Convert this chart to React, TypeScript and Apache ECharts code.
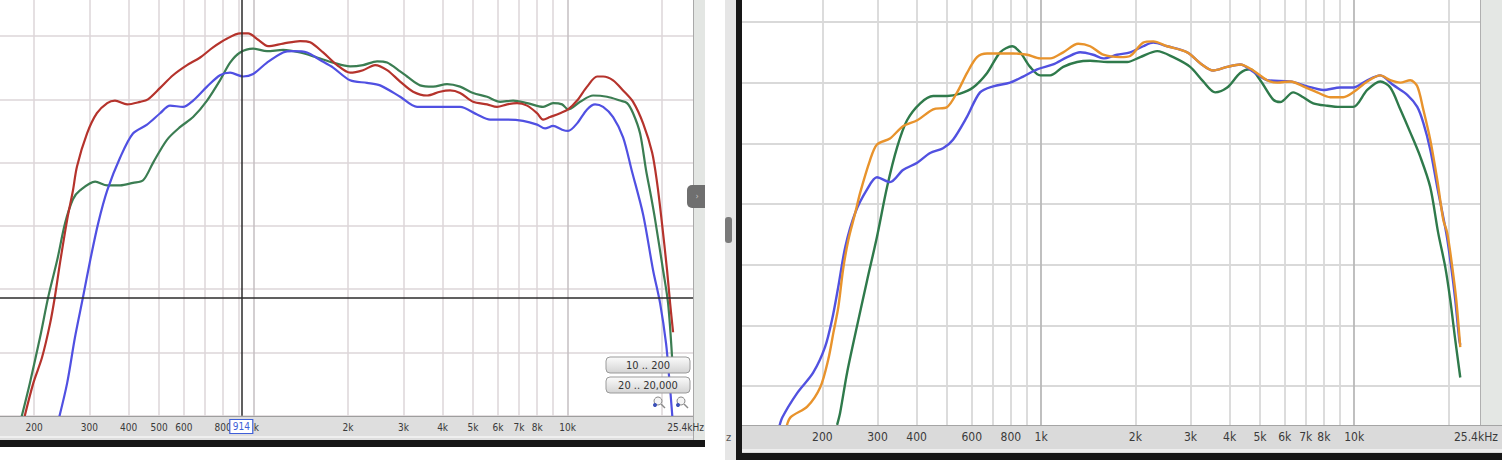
import React, { useEffect, useRef } from "react";
import * as echarts from "echarts";

type Pt = [number, number];

// ---- Left panel: frequency (Hz), level (dB) ----
const leftRed: Pt[] = [
  [186, 59.8], [199, 62.6], [212, 64.6], [225, 67.3], [233, 69.4], [242, 72.1], [255, 75.5], [266, 77.8],
  [274, 79.7], [295, 82.3], [317, 83.9], [342, 84.7], [362, 84.9], [396, 84.6], [435, 84.8], [461, 85.0],
  [504, 85.9], [554, 86.9], [614, 87.7], [676, 88.3], [743, 89.1], [824, 89.8], [906, 90.2], [961, 90.2],
  [1034, 89.7], [1112, 89.2], [1242, 89.4], [1406, 89.6], [1514, 89.5], [1665, 88.7], [1845, 87.7],
  [2030, 87.1], [2232, 87.3], [2438, 87.7], [2662, 87.3], [2929, 86.4], [3221, 85.6], [3570, 85.3],
  [3926, 85.6], [4225, 85.7], [4546, 85.5], [5002, 84.8], [5543, 84.6], [5966, 84.4], [6418, 84.6],
  [6906, 84.7], [7433, 84.5], [7999, 83.9], [8356, 83.4], [8795, 83.6], [9466, 83.9], [10038, 84.2],
  [10724, 84.9], [11538, 86.0], [12417, 86.8], [12976, 86.8], [13963, 86.5], [15024, 85.7], [16166, 84.8],
  [17400, 83.1], [18589, 80.8], [19280, 78.4], [19900, 75.6], [20740, 71.5], [21207, 68.9], [21680, 66.6],
];
const leftGreen: Pt[] = [
  [182, 59.8], [194, 62.6], [209, 66.2], [222, 69.4], [237, 72.3], [251, 75.2], [266, 77.1], [280, 77.8],
  [313, 78.5], [342, 78.2], [376, 78.2], [413, 78.4], [445, 78.6], [479, 80.0], [530, 81.8], [583, 82.8],
  [642, 83.6], [711, 84.9], [782, 86.5], [842, 87.9], [906, 88.7], [997, 89.0], [1104, 88.8], [1242, 88.9],
  [1406, 88.7], [1593, 88.3], [1792, 87.9], [2030, 87.6], [2232, 87.7], [2474, 88.0], [2662, 87.9],
  [2929, 87.2], [3083, 86.8], [3392, 86.1], [3729, 86.0], [4133, 86.2], [4546, 86.0], [5002, 85.5],
  [5543, 85.2], [6098, 84.8], [6707, 84.9], [7433, 84.7], [8356, 84.4], [8992, 84.7], [9606, 84.6],
  [10038, 84.2], [10962, 84.8], [12058, 85.3], [13362, 85.2], [14696, 84.9], [15470, 84.7], [16166, 83.9],
  [17020, 82.3], [17780, 79.4], [18450, 77.3], [19000, 75.5], [20147, 71.5], [20894, 68.9], [21520, 64.6],
];
const leftBlue: Pt[] = [
  [240, 59.8], [255, 62.6], [270, 66.2], [286, 69.3], [302, 72.3], [320, 75.2], [342, 77.8], [376, 80.4],
  [413, 82.3], [458, 83.0], [504, 83.9], [542, 84.5], [596, 84.4], [642, 84.9], [711, 86.0], [782, 86.9],
  [842, 87.1], [926, 86.8], [997, 87.0], [1104, 87.9], [1242, 88.7], [1336, 88.8], [1480, 88.7], [1629, 88.1],
  [1792, 87.5], [2030, 86.5], [2298, 86.3], [2529, 86.1], [2929, 85.2], [3317, 84.4], [3729, 84.4],
  [4133, 84.4], [4546, 84.4], [5151, 83.8], [5666, 83.4], [6418, 83.4], [7217, 83.3], [7999, 83.0],
  [8480, 82.7], [8992, 82.9], [9606, 82.6], [10038, 82.5], [10724, 83.1], [11538, 84.2], [12236, 84.6],
  [12976, 84.4], [13963, 83.6], [15024, 82.0], [16000, 79.4], [17400, 75.9], [18720, 71.5], [19706, 68.9],
  [20590, 65.7], [21050, 63.1], [21520, 60.2], [21680, 58.9],
];

// ---- Right panel ----
const rightGreen: Pt[] = [
  [223, 61.8], [228, 62.8], [240, 66.1], [258, 69.9], [278, 73.7], [299, 77.3], [322, 81.4], [347, 84.7],
  [373, 86.9], [411, 88.3], [452, 88.9], [501, 88.9], [551, 89.1], [606, 89.6], [672, 90.8], [740, 92.5],
  [808, 93.0], [857, 92.5], [922, 91.3], [993, 90.6], [1069, 90.6], [1176, 91.3], [1303, 91.7], [1434, 91.8],
  [1626, 91.7], [1883, 91.7], [2072, 92.1], [2348, 92.6], [2641, 92.1], [2992, 91.3], [3293, 90.1],
  [3597, 89.2], [3929, 89.6], [4323, 90.8], [4653, 91.1], [5009, 90.2], [5511, 88.6], [5802, 88.4],
  [6384, 89.2], [6871, 88.8], [7396, 88.3], [8198, 88.1], [9022, 88.0], [9927, 88.0], [11004, 89.4],
  [12109, 90.1], [13032, 89.6], [14028, 87.8], [15097, 85.9], [16249, 83.9], [17486, 81.4], [18546, 77.6],
  [19531, 74.8], [20261, 72.1], [21019, 68.8], [21808, 65.7],
];
const rightBlue: Pt[] = [
  [145, 61.4], [149, 62.4], [166, 64.4], [187, 66.1], [204, 68.2], [215, 70.5], [225, 73.2], [237, 76.5],
  [255, 79.3], [278, 81.2], [299, 82.2], [329, 81.8], [362, 82.8], [402, 83.4], [442, 84.2], [486, 84.6],
  [523, 85.3], [580, 87.2], [638, 89.2], [703, 89.7], [796, 90.0], [876, 90.5], [971, 91.1], [1092, 91.5],
  [1211, 92.1], [1332, 92.5], [1466, 92.3], [1578, 92.0], [1749, 92.3], [1925, 92.5], [2118, 93.0],
  [2280, 93.3], [2527, 93.0], [2928, 92.5], [3221, 91.6], [3544, 91.0], [3929, 91.3], [4323, 91.5],
  [4757, 90.9], [5272, 90.2], [6245, 90.1], [7075, 89.7], [7962, 89.4], [9022, 89.6], [9927, 89.6],
  [11004, 90.2], [12109, 90.6], [13323, 89.8], [14767, 89.0], [15894, 88.0], [16610, 86.7], [17486, 84.5],
  [18410, 81.4], [19676, 77.6], [20411, 74.8], [21019, 72.1], [21646, 68.8], [21808, 68.4],
];
const rightOrange: Pt[] = [
  [153, 61.4], [158, 62.4], [179, 63.3], [197, 64.9], [209, 67.2], [217, 69.4], [225, 71.5], [233, 74.6],
  [242, 77.0], [255, 79.3], [264, 80.9], [284, 83.6], [299, 84.9], [329, 85.4], [362, 86.4], [402, 86.9],
  [452, 87.8], [501, 88.0], [539, 89.2], [580, 90.8], [624, 92.1], [672, 92.4], [740, 92.4], [814, 92.4],
  [902, 92.3], [993, 92.0], [1069, 92.0], [1176, 92.5], [1313, 93.2], [1434, 93.0], [1578, 92.3],
  [1789, 92.1], [1925, 92.2], [2118, 93.3], [2280, 93.4], [2527, 93.0], [2928, 92.5], [3221, 91.6],
  [3544, 91.0], [3929, 91.3], [4323, 91.5], [4757, 91.0], [5272, 90.2], [5675, 90.0], [6245, 90.1],
  [6871, 89.7], [7617, 89.2], [8381, 88.8], [9224, 88.8], [9927, 89.2], [11004, 90.1], [12109, 90.6],
  [13032, 90.2], [14028, 90.0], [15097, 90.2], [15894, 89.7], [16610, 87.8], [17486, 85.3], [18410, 82.0],
  [19246, 78.7], [19821, 77.6], [20562, 74.8], [21175, 72.1], [21808, 68.2],
];

// ---- Axes ----
const gridFreqs = [200, 300, 400, 500, 600, 700, 800, 900, 1000, 2000, 3000, 4000, 5000, 6000, 7000, 8000, 9000, 10000, 20000];
const majorFreqs = [1000, 10000];
const leftTickValues = [200, 300, 400, 500, 600, 800, 1000, 2000, 3000, 4000, 5000, 6000, 7000, 8000, 10000];
const leftTickLabels = ["200", "300", "400", "500", "600", "800", "1k", "2k", "3k", "4k", "5k", "6k", "7k", "8k", "10k"];
const rightTickValues = [200, 300, 400, 600, 800, 1000, 2000, 3000, 4000, 5000, 6000, 7000, 8000, 10000];
const rightTickLabels = ["200", "300", "400", "600", "800", "1k", "2k", "3k", "4k", "5k", "6k", "7k", "8k", "10k"];
const endLabel = "25.4kHz";
const leftFreqRange: Pt = [155.8, 25400];
const rightFreqRange: Pt = [110.8, 25400];
const leftLevelRange: Pt = [60, 95];
const rightLevelRange: Pt = [60, 100];
const levelStep = 5;
const cursorFreq = 914;
const cursorLevel = 69.33;
const cursorText = "914";
const zoomButtons = ["10 .. 200", "20 .. 20,000"];

const FONT = '"DejaVu Sans Condensed", "DejaVu Sans", sans-serif';

export default function App() {
  const ref = useRef<HTMLDivElement>(null);

  useEffect(() => {
    const el = ref.current!;
    const chart = echarts.init(el, undefined, { renderer: "svg" });

    const gridLines = (idx: number, range: Pt, minor: string, major: string, width: number) => ({
      type: "lines",
      coordinateSystem: "cartesian2d",
      xAxisIndex: idx,
      yAxisIndex: idx,
      z: 1,
      silent: true,
      lineStyle: { width, opacity: 1, color: minor },
      data: gridFreqs.map((f) => ({
        coords: [[f, range[0]], [f, range[1]]],
        lineStyle: { color: majorFreqs.includes(f) ? major : minor, width, opacity: 1 },
      })),
    });
    const curve = (idx: number, data: Pt[], color: string, width: number) => ({
      type: "line",
      xAxisIndex: idx,
      yAxisIndex: idx,
      data,
      smooth: 0.3,
      showSymbol: false,
      symbol: "none",
      z: 3,
      silent: true,
      clip: true,
      lineStyle: { color, width },
      itemStyle: { color },
    });
    const hiddenX = (idx: number, range: Pt) => ({
      type: "log",
      logBase: 10,
      gridIndex: idx,
      min: range[0],
      max: range[1],
      axisLine: { show: false },
      axisTick: { show: false },
      axisLabel: { show: false },
      splitLine: { show: false },
    });
    const hiddenY = (idx: number, range: Pt, color: string, width: number) => ({
      type: "value",
      gridIndex: idx,
      min: range[0],
      max: range[1],
      interval: levelStep,
      axisLine: { show: false },
      axisTick: { show: false },
      axisLabel: { show: false },
      splitLine: { show: true, lineStyle: { color, width } },
    });

    chart.setOption({
      animation: false,
      backgroundColor: "#ffffff",
      grid: [
        { left: 0, top: -27.3, width: 694.7, height: 443.1, outerBoundsMode: "none", containLabel: false },
        { left: 742, top: -38.7, width: 739, height: 485.4, outerBoundsMode: "none", containLabel: false },
      ],
      xAxis: [hiddenX(0, leftFreqRange), hiddenX(1, rightFreqRange)],
      yAxis: [hiddenY(0, leftLevelRange, "#dcd6d9", 1.5), hiddenY(1, rightLevelRange, "#d9d9d9", 1.8)],
      series: [
        gridLines(0, leftLevelRange, "#dcd6d9", "#c4bfc2", 1.5),
        gridLines(1, rightLevelRange, "#d9d9d9", "#b9b9b9", 1.8),
        curve(0, leftGreen, "#3b7d52", 2.2),
        curve(0, leftBlue, "#5050e2", 2.2),
        curve(0, leftRed, "#b5332c", 2.2),
        {
          type: "lines",
          coordinateSystem: "cartesian2d",
          xAxisIndex: 0,
          yAxisIndex: 0,
          z: 4,
          silent: true,
          lineStyle: { color: "#2b2b2b", width: 1.5, opacity: 1 },
          data: [
            { coords: [[cursorFreq, leftLevelRange[0]], [cursorFreq, leftLevelRange[1]]] },
            { coords: [[leftFreqRange[0], cursorLevel], [leftFreqRange[1], cursorLevel]] },
          ],
        },
        curve(1, rightGreen, "#2f7a4b", 2.4),
        curve(1, rightBlue, "#5151e0", 2.4),
        curve(1, rightOrange, "#e8932c", 2.4),
      ],
    });

    const px = (i: number, v: number) => chart.convertToPixel({ xAxisIndex: i }, v) as number;
    const txt = (x: number, y: number, text: string, size: number, fill: string, align = "center") => ({
      type: "text",
      x,
      y,
      z: 12,
      silent: true,
      style: {
        text,
        fill,
        font: `${size}px ${FONT}`,
        align,
        verticalAlign: "middle",
        textAlign: align,
        textVerticalAlign: "middle",
      },
    });
    const rect = (x: number, y: number, w: number, h: number, fill: any, extra: any = {}) => ({
      type: "rect",
      z: 10,
      silent: true,
      shape: { x, y, width: w, height: h, r: extra.r || 0 },
      style: { fill, stroke: extra.stroke, lineWidth: extra.lineWidth || 0 },
    });
    const line = (x1: number, y1: number, x2: number, y2: number, stroke: string, w = 1) => ({
      type: "line",
      z: 11,
      silent: true,
      shape: { x1, y1, x2, y2 },
      style: { stroke, lineWidth: w },
    });
    const magnifier = (cx: number, cy: number, dot: string) => [
      { type: "circle", z: 12, silent: true, shape: { cx, cy, r: 4 }, style: { fill: "#f4f4f4", stroke: "#8a8a8a", lineWidth: 1 } },
      line(cx + 3, cy + 3, cx + 7, cy + 7, "#8a8a8a", 1.5),
      { type: "circle", z: 13, silent: true, shape: { cx: cx - 3, cy: cy + 4, r: 2 }, style: { fill: dot } },
    ];
    const btnFill = new echarts.graphic.LinearGradient(0, 0, 0, 1, [
      { offset: 0, color: "#fbfbfb" },
      { offset: 1, color: "#d3d3d3" },
    ]);

    const elements: any[] = [
      // left panel chrome
      rect(0, 416, 693, 24, "#dedede"),
      line(0, 416.5, 693, 416.5, "#9e9e9e"),
      rect(0, 436, 693, 2, "#efefef"),
      rect(693, 0, 12, 440, "#e3e6e3"),
      line(693.5, 0, 693.5, 440, "#a9a9a9"),
      rect(0, 440, 705, 7, "#161616"),
      { ...rect(687, 185, 18, 23, "#6f6f6f", { r: [5, 0, 0, 5] }), z: 11 },
      txt(697, 196, "›", 9, "#c4c4c4"),
      // gap + right panel chrome
      rect(725, 0, 11, 460, "#e6e6e6"),
      { ...rect(725, 217, 7, 26, "#7a7a7a", { r: 3 }), z: 11 },
      txt(726, 437, "z", 11, "#555555", "left"),
      rect(736, 0, 6, 460, "#171717"),
      rect(1480, 0, 22, 425, "#e4e7e4"),
      line(1480.5, 0, 1480.5, 425, "#b0b0b0"),
      rect(742, 425, 760, 28, "#dadada"),
      line(742, 425.5, 1502, 425.5, "#a5a5a5"),
      rect(742, 449, 760, 3, "#eeeeee"),
      rect(736, 453, 766, 7, "#171717"),
    ];

    leftTickValues.forEach((v, i) => elements.push(txt(px(0, v), 427, leftTickLabels[i], 10, "#3a3a3a")));
    elements.push(txt(704, 427, endLabel, 10, "#3a3a3a", "right"));
    const cx = px(0, cursorFreq);
    elements.push({ ...rect(cx - 11.5, 419.5, 23, 14, "#ffffff", { stroke: "#3f5fd8", lineWidth: 1.2 }), z: 13 });
    elements.push({ ...txt(cx, 426.5, cursorText, 10, "#3f5fd8"), z: 14 });

    rightTickValues.forEach((v, i) => elements.push(txt(px(1, v), 437, rightTickLabels[i], 12, "#3a3a3a")));
    elements.push(txt(1498, 437, endLabel, 12, "#3a3a3a", "right"));

    zoomButtons.forEach((label, i) => {
      const y = 357 + i * 20;
      elements.push({ ...rect(606, y, 84, 16, btnFill, { r: 4, stroke: "#9b9b9b", lineWidth: 1 }), z: 12 });
      elements.push({ ...txt(648, y + 8.5, label, 11, "#333333"), z: 13 });
    });
    elements.push(...magnifier(658, 401, "#3a4fb8"), ...magnifier(681, 401, "#3a4fb8"));

    chart.setOption({ graphic: { elements } });

    return () => chart.dispose();
  }, []);

  return (
    <div
      ref={ref}
      style={{ position: "fixed", left: 0, top: 0, width: 1502, height: 460, background: "#ffffff" }}
    />
  );
}
